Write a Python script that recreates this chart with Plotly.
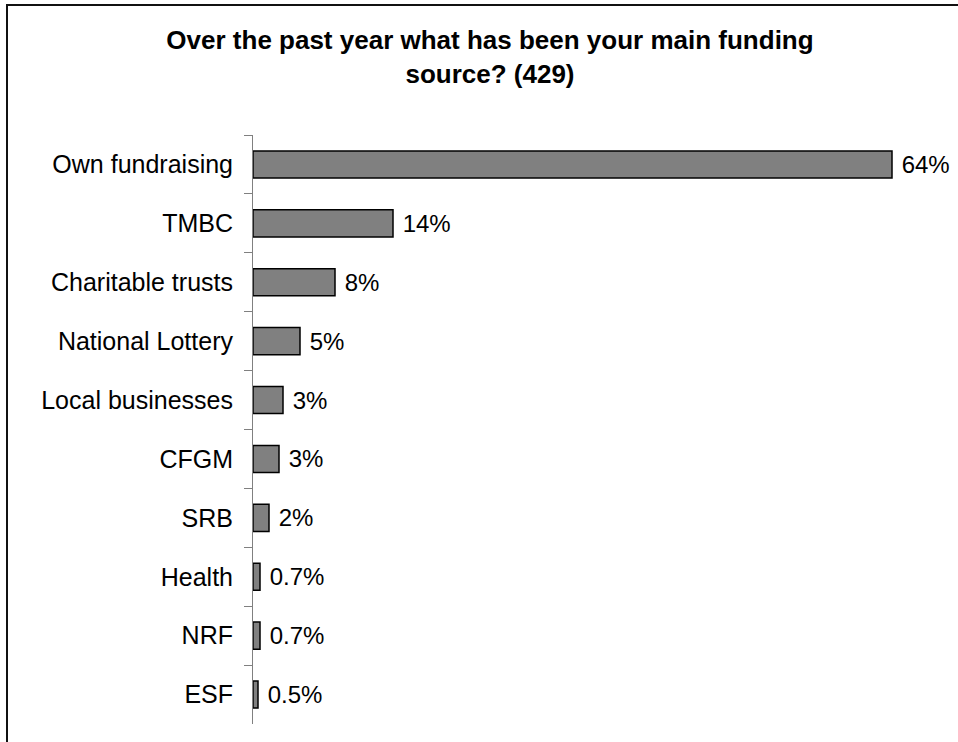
import plotly.graph_objects as go

categories = ["Own fundraising", "TMBC", "Charitable trusts", "National Lottery",
              "Local businesses", "CFGM", "SRB", "Health", "NRF", "ESF"]
values = [63.9, 14.0, 8.2, 4.7, 3.0, 2.6, 1.6, 0.7, 0.7, 0.5]
value_labels = ["64%", "14%", "8%", "5%", "3%", "3%", "2%", "0.7%", "0.7%", "0.5%"]
title_text = "Over the past year what has been your main funding<br>source? (429)"

W, H = 958, 742
L, R, T, B = 253, 5, 135, 18
pw, ph = W - L - R, H - T - B

fig = go.Figure(go.Bar(
    x=values, y=categories, orientation="h",
    marker=dict(color="#808080", line=dict(color="#000000", width=1.5)),
    text=[" " + t for t in value_labels], textposition="outside", cliponaxis=False,
    textfont=dict(family="Liberation Sans, Arial", size=24, color="#000000"),
    hoverinfo="skip",
))

fig.update_layout(
    width=W, height=H,
    margin=dict(l=L, r=R, t=T, b=B, pad=0),
    paper_bgcolor="#ffffff", plot_bgcolor="#ffffff",
    bargap=0.54,
    showlegend=False,
    font=dict(family="Liberation Sans, Arial", color="#000000"),
    title=dict(text="<b>" + title_text + "</b>", x=490 / W, xanchor="center",
               y=1 - 49 / H, yanchor="top",
               font=dict(family="Liberation Sans, Arial", size=26, color="#000000")),
    xaxis=dict(range=[0, 70], visible=False, fixedrange=True),
    yaxis=dict(categoryorder="array", categoryarray=categories, autorange="reversed",
               showline=True, linecolor="#808080", linewidth=1,
               ticks="outside", tickson="boundaries", ticklen=8, tickcolor="#808080",
               tickwidth=1, ticklabelstandoff=14, showgrid=False, zeroline=False,
               tickfont=dict(family="Liberation Sans, Arial", size=25, color="#000000")),
    shapes=[dict(type="rect", xref="paper", yref="paper",
                 x0=(7 - L) / pw, x1=(W + 20 - L) / pw,
                 y0=-(B + 20) / ph, y1=(H - B - 5) / ph,
                 line=dict(color="#111111", width=2), fillcolor="rgba(0,0,0,0)",
                 layer="below")],
)

fig.write_html("out.html")
